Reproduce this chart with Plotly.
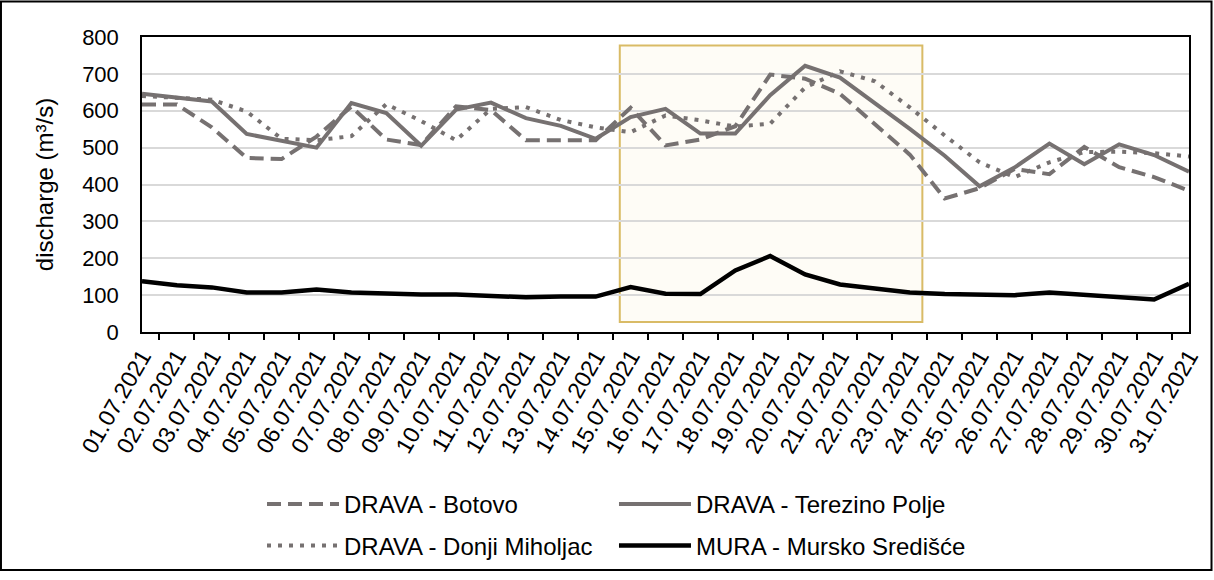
import plotly.graph_objects as go

dates = ["01.07.2021", "02.07.2021", "03.07.2021", "04.07.2021", "05.07.2021",
         "06.07.2021", "07.07.2021", "08.07.2021", "09.07.2021", "10.07.2021",
         "11.07.2021", "12.07.2021", "13.07.2021", "14.07.2021", "15.07.2021",
         "16.07.2021", "17.07.2021", "18.07.2021", "19.07.2021", "20.07.2021",
         "21.07.2021", "22.07.2021", "23.07.2021", "24.07.2021", "25.07.2021",
         "26.07.2021", "27.07.2021", "28.07.2021", "29.07.2021", "30.07.2021",
         "31.07.2021"]

drava_botovo = [617, 617, 555, 472, 469, 530, 611, 522, 507, 612,
                602, 520, 520, 520, 608, 506, 522, 558, 698, 687,
                646, 563, 481, 362, 390, 442, 428, 502, 447, 420, 383]

drava_terezino = [646, 636, 625, 537, 519, 500, 621, 594, 505, 603,
                  622, 580, 559, 524, 583, 605, 538, 538, 642, 722,
                  690, 621, 551, 478, 395, 446, 511, 455, 509, 480, 435]

drava_donji = [640, 636, 630, 598, 524, 520, 531, 618, 572, 520,
               605, 610, 575, 555, 542, 587, 574, 557, 565, 663,
               707, 680, 609, 533, 460, 420, 460, 488, 489, 485, 476]

mura_mursko = [138, 127, 121, 107, 107, 115, 107, 103, 102, 102,
               97, 94, 96, 96, 122, 104, 103, 167, 206, 156,
               129, 118, 107, 103, 100, 100, 107, 100, 94, 88, 131]

series_names = ["DRAVA - Botovo", "DRAVA - Terezino Polje",
                "DRAVA - Donji Miholjac", "MURA - Mursko Središće"]

y_ticks = [0, 100, 200, 300, 400, 500, 600, 700, 800]

# highlighted period (category-index positions and discharge range)
highlight_x = [13.69, 22.36]
highlight_y = [27, 777]

FONT = "Arial, Liberation Sans, sans-serif"
GRAY = "#767171"

fig = go.Figure()
fig.add_trace(go.Scatter(x=dates, y=drava_botovo, mode="lines", name=series_names[0],
                         legend="legend",
                         line=dict(color=GRAY, width=4, dash="14px,7px")))
fig.add_trace(go.Scatter(x=dates, y=drava_terezino, mode="lines", name=series_names[1],
                         legend="legend",
                         line=dict(color=GRAY, width=4)))
fig.add_trace(go.Scatter(x=dates, y=drava_donji, mode="lines", name=series_names[2],
                         legend="legend2",
                         line=dict(color=GRAY, width=4, dash="4px,7px")))
fig.add_trace(go.Scatter(x=dates, y=mura_mursko, mode="lines", name=series_names[3],
                         legend="legend2",
                         line=dict(color="#000000", width=4.5)))

fig.add_shape(type="rect", xref="x", yref="y",
              x0=highlight_x[0], x1=highlight_x[1], y0=highlight_y[0], y1=highlight_y[1],
              line=dict(color="#d9bb66", width=2), fillcolor="rgba(250,240,205,0.18)",
              layer="below")

# outer chart border
fig.add_shape(type="rect", xref="paper", yref="paper",
              x0=-0.1347, x1=1.0215, y0=-0.8070, y1=1.1204,
              line=dict(color="black", width=2), fillcolor="rgba(0,0,0,0)")

legend_common = dict(orientation="h", x=0.1146, xanchor="left", yanchor="top",
                     itemwidth=72, entrywidth=265, font=dict(size=24, family=FONT),
                     bgcolor="rgba(0,0,0,0)")

fig.update_layout(
    width=1214, height=580,
    margin=dict(l=142, r=25, t=37, b=244),
    paper_bgcolor="white", plot_bgcolor="white",
    font=dict(family=FONT, color="black", size=22),
    showlegend=True,
    legend=dict(y=-0.508, **legend_common),
    legend2=dict(y=-0.649, **legend_common),
)
fig.update_xaxes(type="category", tickson="boundaries", ticks="outside", ticklen=6,
                 tickcolor="black", tickwidth=1.5, tickangle=-60, showgrid=False,
                 showline=True, linecolor="black", linewidth=1.5, mirror=True,
                 tickfont=dict(size=23, family=FONT))
fig.update_yaxes(range=[0, 800], tickvals=y_ticks, showgrid=True, gridcolor="#d9d9d9",
                 gridwidth=1.5, showline=True, linecolor="black", linewidth=1.5,
                 mirror=True, zeroline=False, ticks="", ticklabelstandoff=17,
                 tickfont=dict(size=22, family=FONT),
                 title=dict(text="discharge (m³/s)", font=dict(size=24, family=FONT), standoff=22))

fig.write_html("out.html", config={"displayModeBar": False},
               post_script="document.body.style.margin='0px';")
